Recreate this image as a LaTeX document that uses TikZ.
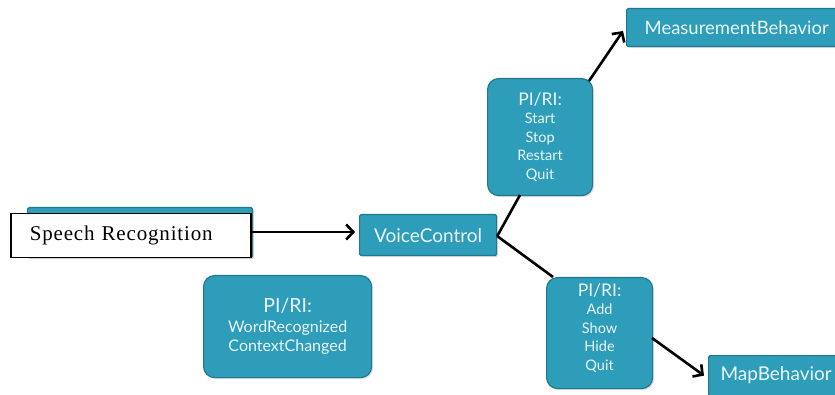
\documentclass[tikz,border=0pt]{standalone}
\usepackage{fontspec}
\setmainfont{Lato}
\newfontfamily\serifbox[LetterSpace=4]{Liberation Serif}
\usetikzlibrary{arrows.meta,shadows}
\definecolor{tealfill}{HTML}{2E9DBA}
\definecolor{tealedge}{HTML}{1F7890}
\definecolor{boxtext}{HTML}{EAF8FC}
\tikzset{
  tealbox/.style={draw=tealedge, line width=1.2pt, fill=tealfill, text=boxtext, align=center, inner sep=0pt,
    drop shadow={opacity=0.25, shadow xshift=1.5pt, shadow yshift=-1.5pt}},
  roundbox/.style={tealbox, rounded corners=11pt},
  flatbox/.style={tealbox, rounded corners=1.5pt},
  boxlabel/.style={text=boxtext, align=center, inner sep=0pt},
  conn/.style={line width=2.6pt, black},
  arr/.style={conn, -{Straight Barb[length=7pt,width=15pt,line width=2.6pt]}},
}
\begin{document}
\begin{tikzpicture}[x=1pt,y=-1pt]
\useasboundingbox (0,0) rectangle (835,395);
\clip (0,0) rectangle (835,395);
\fill[white] (0,0) rectangle (835,395);
% teal box behind speech recognition
\node[flatbox, minimum width=225pt, minimum height=50pt, anchor=north west] (srbg) at (27,207) {};
\node[draw=black, line width=1.5pt, fill=white, minimum width=240pt, minimum height=44pt, anchor=north west, inner sep=0pt, text width=220pt, align=left, font=\serifbox\fontsize{21}{24}\selectfont] (sr) at (10,213) {\hspace*{9pt}Speech Recognition};
% voice control
\node[flatbox, minimum width=137pt, minimum height=41pt, anchor=north west, font=\fontsize{19}{22}\selectfont] (vc) at (359,214) {VoiceControl};
% start box
\node[roundbox, minimum width=105pt, minimum height=117pt, anchor=north west, font=\fontsize{14.5}{18.5}\selectfont] (st) at (487,78) {{\fontsize{17.5}{18.5}\selectfont PI/RI:}\\Start\\Stop\\Restart\\Quit};
% add box
\node[roundbox, minimum width=106pt, minimum height=111pt, anchor=north west] (ad) at (546,277) {};
\node[boxlabel, font=\fontsize{14.5}{18.5}\selectfont] (adtext) at ([yshift=5pt]ad.center) {{\fontsize{17.5}{18.5}\selectfont PI/RI:}\\Add\\Show\\Hide\\Quit};
% word recognized
\node[roundbox, minimum width=168pt, minimum height=102pt, anchor=north west, font=\fontsize{16}{19.5}\selectfont] (wr) at (203,275) {{\fontsize{19.5}{19.5}\selectfont PI/RI:}\\WordRecognized\\ContextChanged};
% measurement behavior
\node[flatbox, minimum width=215pt, minimum height=38pt, anchor=north west, text width=205pt, align=left, font=\fontsize{18.5}{22}\selectfont] (mb) at (626,8) {\hspace*{13pt}MeasurementBehavior};
% map behavior
\node[flatbox, minimum width=135pt, minimum height=40pt, anchor=north west, text width=125pt, align=left, font=\fontsize{19}{22}\selectfont] (mp) at (708,355) {\hspace*{7pt}MapBehavior};
% connectors
\coordinate (vcr) at ([yshift=-1pt]vc.east);
\coordinate (stb) at (520,195);
\coordinate (stt) at (589,81);
\coordinate (mbin) at (623,31);
\coordinate (adt) at (553,277);
\coordinate (adr) at (652,338);
\draw[arr] (sr.east |- 0,232) -- ([xshift=-4pt]vc.west |- 0,232);
\draw[conn] (vcr) -- (stb);
\draw[arr] (stt) -- (mbin);
\draw[conn] (vcr) -- (adt);
\draw[arr] (adr) -- ([xshift=-4pt]mp.west);
\end{tikzpicture}
\end{document}
